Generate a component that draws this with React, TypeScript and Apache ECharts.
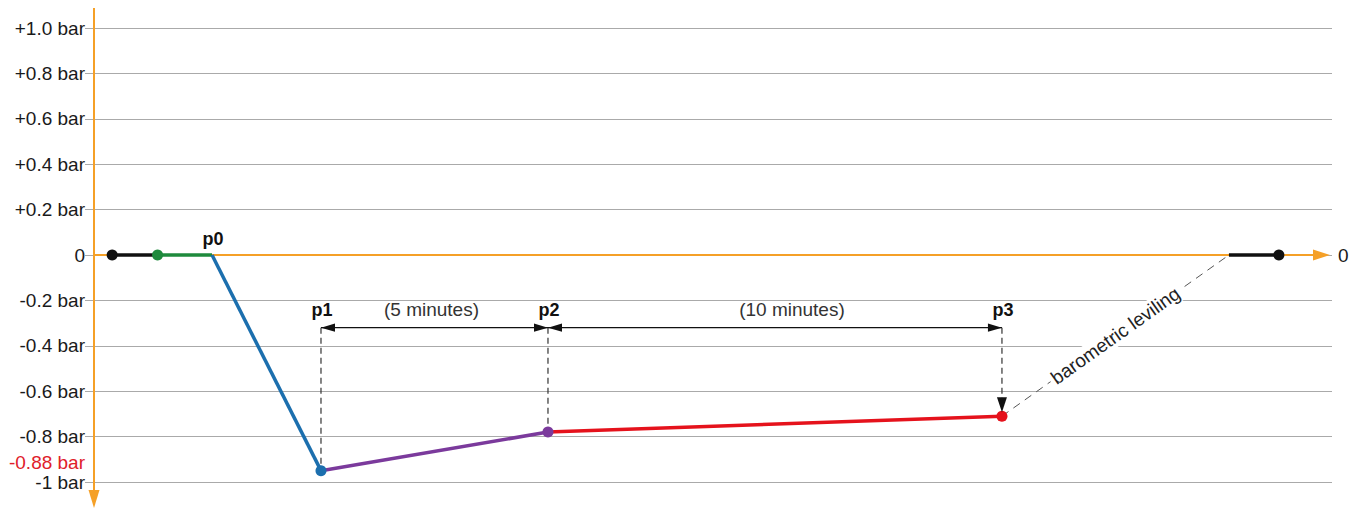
import React, { useEffect, useRef } from 'react';
import * as echarts from 'echarts';

// y-axis ticks and their labels
const yTicks = [1, 0.8, 0.6, 0.4, 0.2, 0, -0.2, -0.4, -0.6, -0.8, -1];
const yTickLabels = ['+1.0 bar', '+0.8 bar', '+0.6 bar', '+0.4 bar', '+0.2 bar', '0', '-0.2 bar', '-0.4 bar', '-0.6 bar', '-0.8 bar', '-1 bar'];

// schematic points: time (minutes) and pressure (bar)
const pointNames = ['start', 'valve', 'p0', 'p1', 'p2', 'p3', 'leveled', 'end'];
const timeMin = [0.4, 1.4, 2.6, 5, 10, 20, 25, 26.1];
const pressureBar = [0, 0, 0, -0.95, -0.78, -0.71, 0, 0];

// segment i joins point i and point i+1
const segmentColors = ['#111111', '#1e8a3c', '#1c6fae', '#7b3a9c', '#e5121c', '#555555', '#111111'];
const dashedSegment = 5;

// dots drawn on points
const dotPoints = [0, 1, 3, 4, 5, 7];
const dotColors = ['#111111', '#1e8a3c', '#1c6fae', '#7b3a9c', '#e5121c', '#111111'];

// annotations
const labeledPoints = [2, 3, 4, 5]; // p0..p3
const dimensionPressure = -0.32;
const spans = [
  { from: 3, to: 4, text: '(5 minutes)' },
  { from: 4, to: 5, text: '(10 minutes)' },
];
const markedPressure = -0.88;
const markedLabel = '-0.88 bar';
const levelingLabel = 'barometric leviling';
const xMax = 27.27;

export default function App() {
  const ref = useRef<HTMLDivElement>(null);
  useEffect(() => {
    document.body.style.margin = '0';
    const chart = echarts.init(ref.current!, null, { renderer: 'svg' });
    const font = 'Arial, "Liberation Sans", sans-serif';
    const fs = 19;
    const series: any[] = [];
    for (let i = 0; i < timeMin.length - 1; i++) {
      const dashed = i === dashedSegment;
      series.push({
        type: 'line',
        name: pointNames[i] + '-' + pointNames[i + 1],
        data: [[timeMin[i], pressureBar[i]], [timeMin[i + 1], pressureBar[i + 1]]],
        showSymbol: false,
        symbol: 'none',
        silent: true,
        z: dashed ? 3 : 4,
        lineStyle: { color: segmentColors[i], width: dashed ? 1 : 3.5, type: dashed ? [8, 6] : 'solid' },
      });
    }
    series.push({
      type: 'scatter',
      silent: true,
      z: 5,
      symbolSize: 11,
      data: dotPoints.map((k, j) => ({ value: [timeMin[k], pressureBar[k]], itemStyle: { color: dotColors[j], opacity: 1 } })),
    });

    chart.setOption({
      animation: false,
      grid: { left: 94, right: 27, top: 28, bottom: 35 },
      xAxis: { type: 'value', min: 0, max: xMax, show: false },
      yAxis: {
        type: 'value',
        min: -1,
        max: 1,
        interval: 0.2,
        axisLine: { show: false },
        axisTick: { show: true, length: 9, lineStyle: { color: '#aaaaaa' } },
        splitLine: { lineStyle: { color: '#aaaaaa', width: 1 } },
        axisLabel: {
          margin: 9,
          fontSize: fs,
          fontFamily: font,
          color: '#1a1a1a',
          formatter: (v: number) => {
            const i = yTicks.findIndex((t) => Math.abs(t - v) < 1e-6);
            return i >= 0 ? yTickLabels[i] : '';
          },
        },
      },
      series,
    });

    const px = (x: number, y: number) => chart.convertToPixel({ gridIndex: 0 }, [x, y]) as number[];
    const orange = '#f5a027';
    const [ax0, ayTop] = px(0, 1);
    const [, ayBot] = px(0, -1);
    const [axEnd, ay0] = px(xMax, 0);
    const g: any[] = [];
    // y axis with arrow
    g.push({ type: 'line', z: 1, shape: { x1: ax0, y1: ayTop - 20, x2: ax0, y2: ayBot + 10 }, style: { stroke: orange, lineWidth: 2 } });
    g.push({ type: 'polygon', z: 1, shape: { points: [[ax0 - 5.5, ayBot + 8], [ax0 + 5.5, ayBot + 8], [ax0, ayBot + 26]] }, style: { fill: orange } });
    // zero axis with arrow
    g.push({ type: 'line', z: 1, shape: { x1: ax0, y1: ay0, x2: axEnd - 18, y2: ay0 }, style: { stroke: orange, lineWidth: 2 } });
    g.push({ type: 'polygon', z: 1, shape: { points: [[axEnd - 19, ay0 - 5.5], [axEnd - 19, ay0 + 5.5], [axEnd - 2, ay0]] }, style: { fill: orange } });
    g.push({ type: 'text', z: 1, x: axEnd + 6, y: ay0, style: { text: '0', fontSize: fs, fontFamily: font, fill: '#1a1a1a', align: 'left', verticalAlign: 'middle' } });
    // red marked value label
    const [, my] = px(0, markedPressure);
    g.push({ type: 'text', z: 1, x: ax0 - 9, y: my + 8, style: { text: markedLabel, fontSize: fs, fontFamily: font, fill: '#e0202a', align: 'right', verticalAlign: 'middle' } });

    // point labels
    labeledPoints.forEach((k, j) => {
      const yv = j === 0 ? pressureBar[k] : dimensionPressure;
      const [x, y] = px(timeMin[k], yv);
      g.push({ type: 'text', z: 6, x: x + 1, y: y - (j === 0 ? 16 : 18), style: { text: 'p' + j, fontSize: 18, fontWeight: 'bold', fontFamily: font, fill: '#111', align: 'center', verticalAlign: 'middle' } });
    });

    // dimension lines with arrows
    const arrowL = 14;
    const arrowH = 4.2;
    spans.forEach((s, j) => {
      const [x1, y] = px(timeMin[s.from], dimensionPressure);
      const [x2] = px(timeMin[s.to], dimensionPressure);
      g.push({ type: 'line', z: 6, shape: { x1, y1: y, x2, y2: y }, style: { stroke: '#111', lineWidth: 1.2 } });
      g.push({ type: 'polygon', z: 6, shape: { points: [[x1, y], [x1 + arrowL, y - arrowH], [x1 + arrowL, y + arrowH]] }, style: { fill: '#111' } });
      g.push({ type: 'polygon', z: 6, shape: { points: [[x2, y], [x2 - arrowL, y - arrowH], [x2 - arrowL, y + arrowH]] }, style: { fill: '#111' } });
      g.push({ type: 'text', z: 6, x: (x1 + x2) / 2 + (j === 1 ? 17 : -3), y: y - 18, style: { text: s.text, fontSize: fs, fontFamily: font, fill: '#333', align: 'center', verticalAlign: 'middle' } });
    });

    // vertical dashed guides
    [3, 4, 5].forEach((k) => {
      const [x, yTop] = px(timeMin[k], dimensionPressure);
      const [, yPt] = px(timeMin[k], pressureBar[k]);
      const isLast = k === 5;
      g.push({ type: 'line', z: 3, shape: { x1: x, y1: yTop, x2: x, y2: isLast ? yPt - 18 : yPt }, style: { stroke: '#333', lineWidth: 1.2, lineDash: [6, 4] } });
      if (isLast) {
        g.push({ type: 'polygon', z: 6, shape: { points: [[x - 5, yPt - 19], [x + 5, yPt - 19], [x, yPt - 4]] }, style: { fill: '#111' } });
      }
    });

    // barometric leveling label along the dashed line
    const [lx1, ly1] = px(timeMin[5], pressureBar[5]);
    const [lx2, ly2] = px(timeMin[6], pressureBar[6]);
    const ang = Math.atan2(ly1 - ly2, lx2 - lx1);
    g.push({
      type: 'text',
      z: 7,
      x: (lx1 + lx2) / 2,
      y: (ly1 + ly2) / 2,
      rotation: ang,
      style: { text: levelingLabel, fontSize: fs, fontFamily: font, fill: '#222', align: 'center', verticalAlign: 'middle', backgroundColor: '#fff', padding: [1, 3] },
    });

    chart.setOption({ graphic: { elements: g } });
    return () => chart.dispose();
  }, []);
  return <div ref={ref} style={{ position: 'fixed', left: 0, top: 0, width: 1359, height: 517, background: '#fff' }} />;
}
